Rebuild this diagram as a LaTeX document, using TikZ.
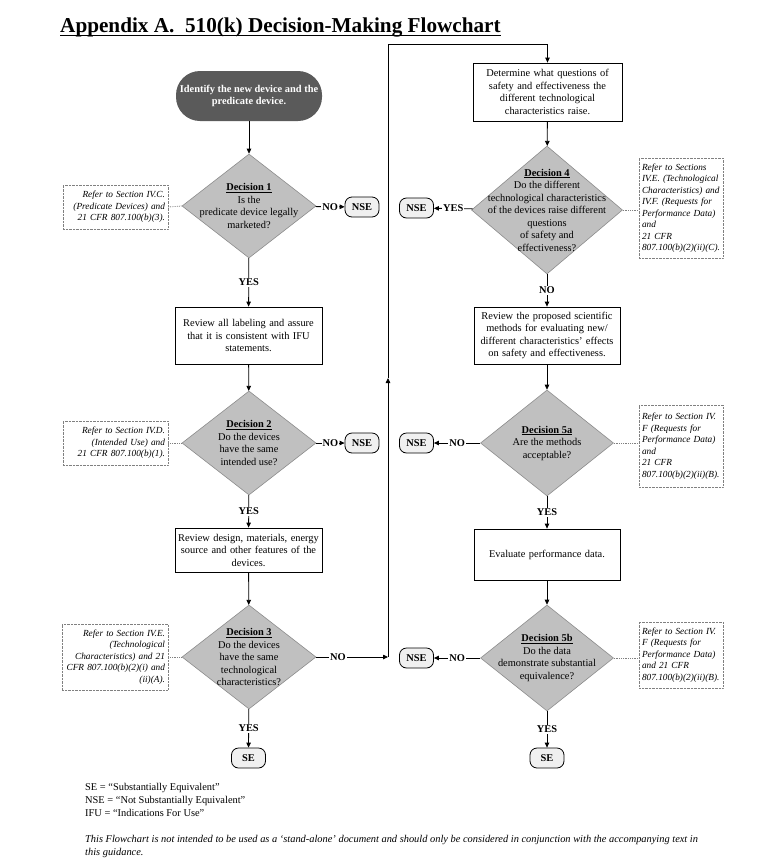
\documentclass[tikz,border=0pt]{standalone}
\usepackage{fontspec}
\setmainfont{Liberation Serif}
\usetikzlibrary{shapes.geometric,arrows.meta}
\definecolor{startgray}{RGB}{90,90,90}
\definecolor{decgray}{RGB}{192,192,192}
\definecolor{decline}{RGB}{140,140,140}
\definecolor{endgray}{RGB}{240,240,240}
\begin{document}
\begin{tikzpicture}[x=1pt,y=-1pt]
\tikzstyle{every node}+=[font=\fontsize{10.4}{12.5}\selectfont]
\tikzstyle{startnode}=[fill=startgray,rounded corners=24pt,minimum width=146pt,minimum height=50pt,text=white,font=\bfseries\fontsize{10.4}{12.5}\selectfont,align=center,inner sep=0pt]
\tikzstyle{procbox}=[draw,line width=0.8pt,align=center,inner sep=2pt]
\tikzstyle{decbox}=[diamond,draw=decline,fill=decgray,line width=0.6pt,inner sep=0pt]
\tikzstyle{dectext}=[align=center,inner sep=0pt]
\tikzstyle{endnode}=[draw,fill=endgray,rounded corners=7pt,minimum width=34pt,minimum height=20pt,line width=0.8pt,font=\bfseries\fontsize{10.4}{12.5}\selectfont]
\tikzstyle{refnote}=[draw=gray,densely dotted,font=\itshape\fontsize{9.3}{11.5}\selectfont,inner sep=3pt]
\tikzstyle{yn}=[fill=white,inner sep=1pt,font=\bfseries\fontsize{10.4}{12.5}\selectfont]
\tikzstyle{arr}=[-{Triangle[length=5pt,width=4.5pt]},line width=0.8pt]
\useasboundingbox (0,0) rectangle (759,863);

\node[anchor=base west,inner sep=0pt,font=\bfseries\fontsize{21.2}{24}\selectfont] (title) at (60,32) {Appendix A.\ \ 510(k) Decision-Making Flowchart};
\draw[line width=1.8pt] ([yshift=-3.5pt]title.base west) -- ([yshift=-3.5pt]title.base east);

\node[startnode] (start) at (249,96) {Identify the new device and the\\predicate device.};

\node[decbox,minimum width=134pt,minimum height=104pt] (d1) at (249,206) {};
\node[dectext] (d1t) at (d1) {\underline{\textbf{Decision 1}}\\Is the\\predicate device legally\\marketed?};
\node[endnode] (nse1) at (362,207) {NSE};
\node[refnote,align=right,text width=99pt,minimum height=44pt] (n1) at (115.5,207) {Refer to Section IV.C.\\(Predicate Devices) and\\21 CFR 807.100(b)(3).};

\node[procbox,text width=143pt,minimum height=57pt] (b2) at (248.5,335.5) {Review all labeling and assure\\that it is consistent with IFU\\statements.};

\node[decbox,minimum width=134pt,minimum height=104pt] (d2) at (249,443) {};
\node[dectext] (d2t) at (d2) {\underline{\textbf{Decision 2}}\\Do the devices\\have the same\\intended use?};
\node[endnode] (nse2) at (362,443) {NSE};
\node[refnote,align=right,text width=99pt,minimum height=44pt] (n2) at (115.5,443) {Refer to Section IV.D.\\(Intended Use) and\\21 CFR 807.100(b)(1).};

\node[procbox,text width=143pt,minimum height=44pt] (b3) at (248.5,550) {Review design, materials, energy\\source and other features of the\\devices.};

\node[decbox,minimum width=134pt,minimum height=104pt] (d3) at (249,657) {};
\node[dectext] (d3t) at (d3) {\underline{\textbf{Decision 3}}\\Do the devices\\have the same\\technological\\characteristics?};
\node[refnote,align=right,text width=100pt,minimum height=66pt] (n3) at (115,657) {Refer to Section IV.E.\\(Technological\\Characteristics) and 21\\CFR 807.100(b)(2)(i) and\\(ii)(A).};
\node[endnode] (se1) at (248.5,758) {SE};

\node[procbox,text width=145pt,minimum height=58pt] (b4) at (547.5,92) {Determine what questions of\\safety and effectiveness the\\different technological\\characteristics raise.};

\node[decbox,minimum width=151pt,minimum height=128pt] (d4) at (547,210) {};
\node[dectext] (d4t) at (d4) {\underline{\textbf{Decision 4}}\\Do the different\\technological characteristics\\of the devices raise different\\questions\\of safety and\\effectiveness?};
\node[endnode] (nse4) at (416.5,208) {NSE};
\node[refnote,align=left,text width=78pt,minimum height=100pt] (n4) at (681,208) {Refer to Sections\\IV.E. (Technological\\Characteristics) and\\IV.F. (Requests for\\Performance Data)\\and\\21 CFR\\807.100(b)(2)(ii)(C).};

\node[procbox,text width=142pt,minimum height=57pt] (b5) at (547,335.5) {Review the proposed scientific\\methods for evaluating new/\\different characteristics’ effects\\on safety and effectiveness.};

\node[decbox,minimum width=133pt,minimum height=106pt] (d5a) at (547,443) {};
\node[dectext] (d5at) at (d5a) {\underline{\textbf{Decision 5a}}\\Are the methods\\acceptable?};
\node[endnode] (nse5a) at (416.5,443) {NSE};
\node[refnote,align=left,text width=78pt,minimum height=82pt] (n5a) at (681,446) {Refer to Section IV.\\F (Requests for\\Performance Data)\\and\\21 CFR\\807.100(b)(2)(ii)(B).};

\node[procbox,text width=142pt,minimum height=51pt] (b6) at (547,554.5) {Evaluate performance data.};

\node[decbox,minimum width=133pt,minimum height=106pt] (d5b) at (547,658) {};
\node[dectext] (d5bt) at (d5b) {\underline{\textbf{Decision 5b}}\\Do the data\\demonstrate substantial\\equivalence?};
\node[endnode] (nse5b) at (416.5,658) {NSE};
\node[refnote,align=left,text width=78pt,minimum height=66pt] (n5b) at (681,655) {Refer to Section IV.\\F (Requests for\\Performance Data)\\and 21 CFR\\807.100(b)(2)(ii)(B).};
\node[endnode] (se2) at (547,758) {SE};

\coordinate (lp1) at (388,657);
\coordinate (lp2) at (388,378);
\coordinate (lp3) at (388,44);

\draw[arr] (start) -- (d1);
\draw[arr] (d1) -- node[yn]{NO} (nse1);
\draw[arr] (d1) -- node[yn]{YES} (b2);
\draw[arr] (b2) -- (d2);
\draw[arr] (d2) -- node[yn]{NO} (nse2);
\draw[arr] (d2) -- node[yn]{YES} (b3);
\draw[arr] (b3) -- (d3);
\draw[arr] (d3) -- node[yn]{YES} (se1);
\draw[arr] (d3) -- node[yn,pos=0.3]{NO} (lp1);
\draw[arr] (lp1) -- (lp2);
\draw[arr] (lp2) -- (lp3) -| (b4);
\draw[arr] (b4) -- (d4);
\draw[arr] (d4) -- node[yn]{YES} (nse4);
\draw[arr] (d4) -- node[yn]{NO} (b5);
\draw[arr] (b5) -- (d5a);
\draw[arr] (d5a) -- node[yn]{NO} (nse5a);
\draw[arr] (d5a) -- node[yn]{YES} (b6);
\draw[arr] (b6) -- (d5b);
\draw[arr] (d5b) -- node[yn]{NO} (nse5b);
\draw[arr] (d5b) -- node[yn]{YES} (se2);

\draw[gray,densely dotted,line width=0.8pt] (n1.east) -- (d1.west);
\draw[gray,densely dotted,line width=0.8pt] (n2.east) -- (d2.west);
\draw[gray,densely dotted,line width=0.8pt] (n3.east) -- (d3.west);
\draw[gray,densely dotted,line width=0.8pt] (d4.east) -- (d4.east -| n4.west);
\draw[gray,densely dotted,line width=0.8pt] (d5a.east) -- (d5a.east -| n5a.west);
\draw[gray,densely dotted,line width=0.8pt] (d5b.east) -- (d5b.east -| n5b.west);

\node[anchor=north west,align=left,inner sep=0pt,font=\fontsize{10.4}{13}\selectfont] (key) at (85,783) {SE = “Substantially Equivalent”\\NSE = “Not Substantially Equivalent”\\IFU = “Indications For Use”};
\node[anchor=north west,align=left,inner sep=0pt,font=\itshape\fontsize{10.4}{13}\selectfont] (foot) at (85,835) {This Flowchart is not intended to be used as a ‘stand-alone’ document and should only be considered in conjunction with the accompanying text in\\this guidance.};
\end{tikzpicture}
\end{document}
